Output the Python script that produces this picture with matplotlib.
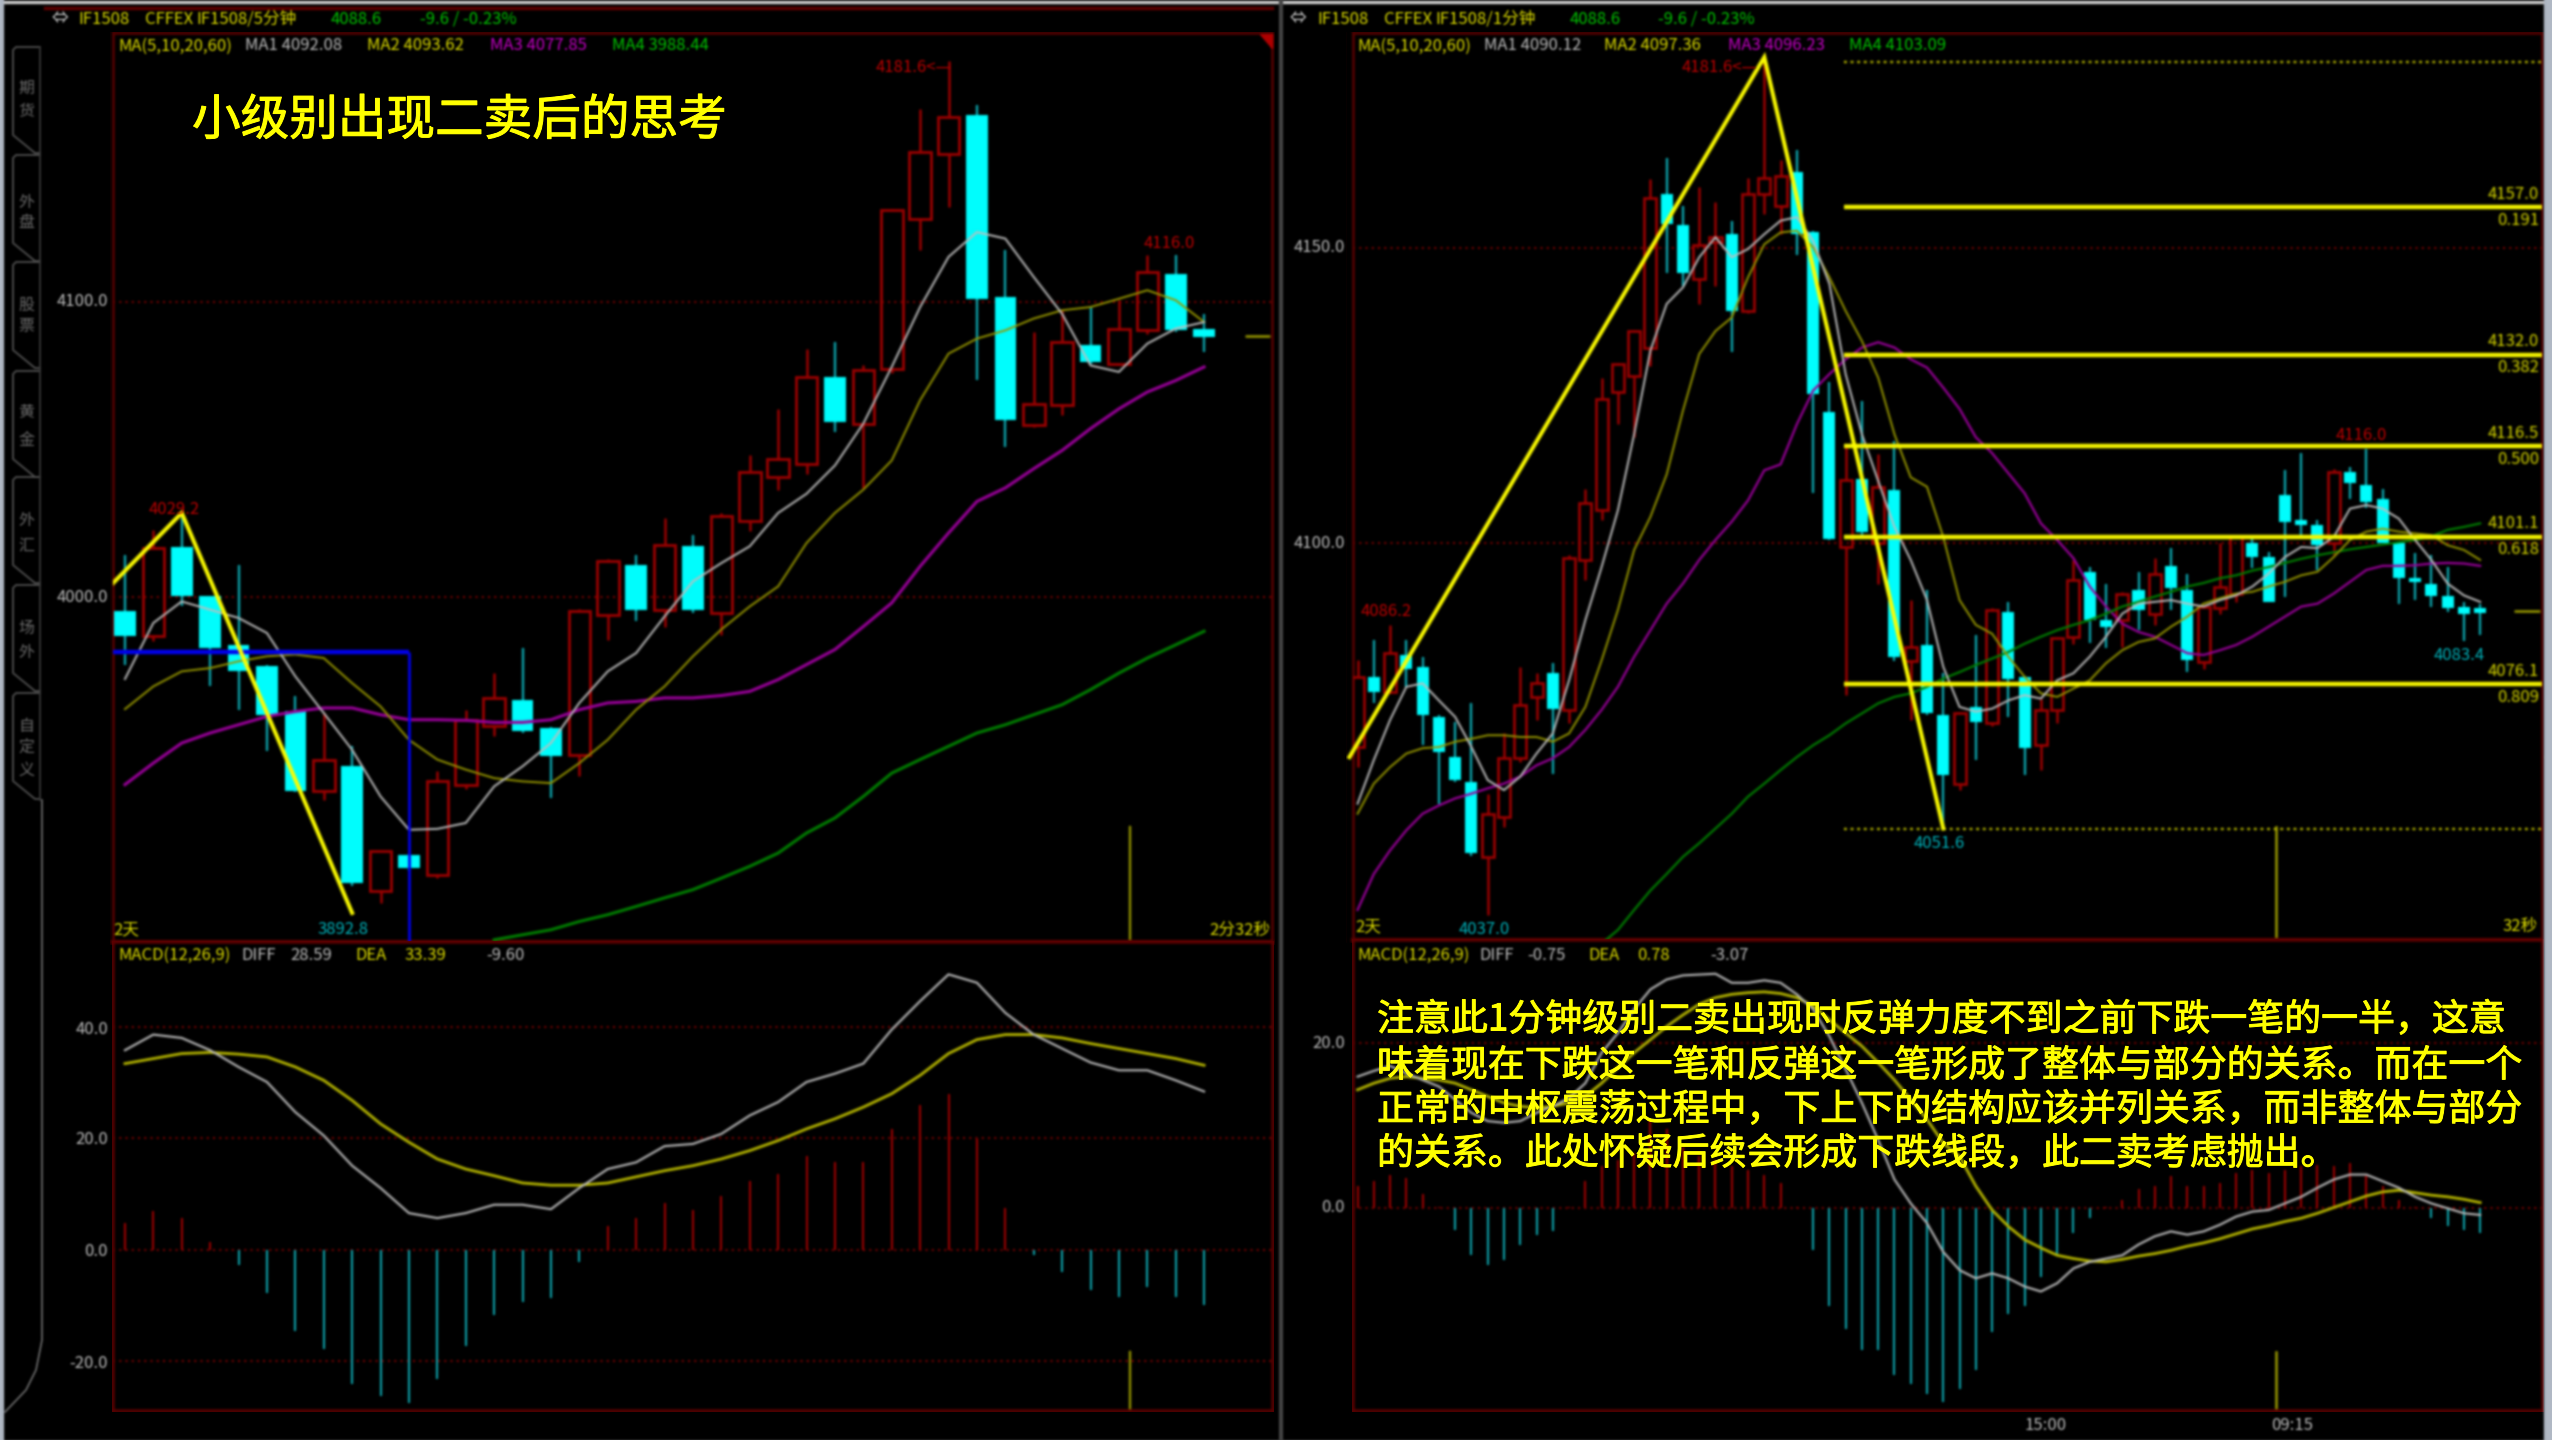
import numpy as np
import matplotlib
matplotlib.use('Agg')
import matplotlib.pyplot as plt
from matplotlib.patches import Polygon
import matplotlib.patheffects as pe

plt.rcParams['font.family'] = ['Noto Sans CJK SC', 'DejaVu Sans']

W, H = 2552, 1440

# left chart, 5 minute candles
L_OPEN = [3995.1, 3986.7, 4016.8, 4000.2, 3983.8, 3976.5, 3961.2, 3934.1, 3942.6, 3900.2, 3912.6, 3905.9, 3936.4,
          3956.2, 3965.2, 3955.6, 3946.5, 3994.0, 4011.0, 3995.7, 4017.2, 3994.6, 4025.6, 4040.7, 4045.2, 4074.6,
          4058.8, 4077.4, 4128.2, 4150.3, 4163.3, 4101.7, 4058.2, 4065.0, 4085.3, 4079.1, 4090.4, 4109.6, 4091.0]
L_CLOSE = [3986.7, 4016.6, 4000.2, 3982.7, 3974.8, 3960.0, 3934.1, 3944.9, 3903.0, 3913.8, 3908.1, 3937.5, 3958.4,
           3965.8, 3954.5, 3946.0, 3995.1, 4012.1, 3995.7, 4017.7, 3995.7, 4027.3, 4042.4, 4046.9, 4074.6, 4059.3,
           4076.8, 4131.1, 4150.8, 4162.7, 4101.1, 4059.9, 4065.5, 4086.4, 4079.7, 4091.0, 4110.2, 4090.4, 4088.1]
L_HIGH = [4014.4, 4022.8, 4028.5, 4000.5, 4011.0, 3977.0, 3966.3, 3960.7, 3949.4, 3914.0, 3913.0, 3940.9, 3961.8,
          3974.2, 3982.7, 3956.0, 3996.0, 4013.0, 4014.4, 4026.8, 4021.0, 4028.5, 4048.0, 4063.8, 4084.2, 4086.4,
          4078.5, 4131.5, 4165.5, 4181.6, 4166.7, 4117.5, 4089.8, 4097.2, 4098.3, 4100.6, 4116.0, 4115.8, 4096.0]
L_LOW = [3977.1, 3985.0, 3997.0, 3969.7, 3961.8, 3947.7, 3934.0, 3931.3, 3902.0, 3896.3, 3907.0, 3904.7, 3935.0,
         3952.8, 3954.0, 3931.9, 3939.2, 3985.5, 3991.8, 3990.0, 3994.6, 3987.2, 4022.3, 4036.2, 4041.8, 4055.9,
         4037.0, 4076.0, 4117.5, 4132.2, 4073.4, 4050.8, 4057.6, 4061.6, 4079.0, 4078.5, 4089.0, 4089.8, 4083.0]
L_MA1 = [3972.2, 3991.2, 3998.5, 3995.7, 3992.9, 3987.8, 3973.1, 3960.7, 3948.2, 3932.4, 3921.1, 3921.4, 3923.4,
         3935.8, 3942.6, 3950.5, 3964.1, 3974.8, 3981.0, 3993.4, 4005.3, 4011.5, 4017.2, 4028.5, 4035.0, 4044.6,
         4058.8, 4078.0, 4098.3, 4115.3, 4123.7, 4121.5, 4108.5, 4096.0, 4078.5, 4076.3, 4085.9, 4091.0, 4093.2]
L_MA2 = [3962.0, 3969.7, 3974.8, 3975.9, 3978.2, 3979.9, 3980.5, 3979.3, 3970.8, 3962.9, 3951.6, 3944.9, 3941.5,
         3938.6, 3937.5, 3936.9, 3943.7, 3951.6, 3961.8, 3969.7, 3979.9, 3989.0, 3996.8, 4003.6, 4018.3, 4028.5,
         4036.4, 4046.3, 4066.7, 4082.5, 4087.6, 4090.4, 4094.4, 4097.2, 4098.3, 4101.1, 4104.0, 4100.6, 4093.2]
L_MA3 = [3936.4, 3943.7, 3950.5, 3953.9, 3956.7, 3959.5, 3961.2, 3962.4, 3962.4, 3960.1, 3958.4, 3958.4, 3958.2,
         3957.5, 3957.5, 3958.4, 3961.8, 3964.1, 3964.6, 3965.8, 3965.8, 3966.6, 3968.0, 3972.0, 3977.1, 3982.2,
         3990.0, 3998.0, 4010.4, 4021.7, 4032.4, 4037.0, 4043.5, 4049.7, 4057.1, 4063.8, 4069.5, 4073.4, 4078.0]
L_MA4_START = 13
L_MA4 = [3883.8, 3885.5, 3887.2, 3890.0, 3892.3, 3895.1, 3898.0, 3900.8, 3904.7, 3908.7, 3913.2, 3920.0, 3925.1,
         3932.4, 3940.3, 3944.9, 3949.4, 3953.9, 3956.7, 3960.1, 3963.5, 3968.6, 3974.2, 3979.3, 3983.8, 3988.4]
L_STROKE_X = [-0.42, 2, 8]
L_STROKE_Y = [4004.7, 4028.5, 3892.9]
L_BLUE_LEVEL = 3981.2
L_BLUE_X = 10
L_MARK_X = 35.4
L_GRID = [4100, 4000]

L_MACD = [4.8, 6.9, 5.7, 1.5, -2.7, -7.8, -14.5, -17.8, -24.1, -26.2, -27.4, -23.2, -17.2, -11.7, -9.3, -8.7, -2.1,
          4.2, 5.7, 8.4, 7.2, 9.6, 12.3, 13.6, 16.9, 15.7, 15.7, 21.7, 25.9, 28.0, 19.9, 7.5, -0.9, -3.9, -7.2, -8.4,
          -6.6, -8.4, -9.9]
L_DIFF = [35.8, 38.6, 38.0, 35.8, 32.8, 30.1, 24.7, 20.5, 15.1, 11.1, 6.6, 5.7, 6.6, 8.1, 8.1, 7.3, 11.1, 14.5, 15.7,
          18.6, 19.0, 20.8, 24.1, 26.5, 30.1, 31.6, 33.4, 39.5, 44.6, 49.4, 47.9, 42.5, 38.6, 36.1, 33.6, 32.2, 32.2,
          30.4, 28.4]
L_DEA = [33.4, 34.3, 35.2, 35.4, 35.1, 34.6, 32.8, 30.4, 26.8, 22.6, 19.3, 16.3, 14.5, 13.3, 12.0, 11.6, 11.6, 12.0,
         13.1, 14.2, 15.1, 16.3, 17.8, 19.6, 21.7, 23.5, 25.6, 28.0, 31.3, 35.2, 37.7, 38.6, 38.6, 38.0, 37.0, 36.1,
         35.2, 34.3, 33.1]
L_MACD_GRID = [40, 20, 0, -20]

# right chart, 1 minute candles
R_OPEN = [4065.5, 4077.4, 4074.9, 4081.1, 4079.1, 4070.6, 4063.8, 4059.6, 4046.9, 4053.7, 4063.6, 4074.0, 4078.0,
          4071.8, 4097.2, 4105.6, 4125.6, 4128.4, 4133.2, 4159.3, 4154.0, 4144.8, 4151.0, 4152.4, 4139.4, 4159.2,
          4157.2, 4162.9, 4152.7, 4122.2, 4099.4, 4111.0, 4100.0, 4109.0, 4080.0, 4082.8, 4070.9, 4059.3, 4072.3,
          4069.5, 4088.4, 4077.4, 4065.8, 4071.8, 4084.2, 4095.2, 4087.0, 4087.0, 4092.1, 4088.1, 4096.2, 4092.1,
          4079.9, 4089.0, 4091.5, 4100.0, 4097.7, 4108.2, 4104.0, 4103.1, 4100.0, 4112.1, 4109.9, 4107.6, 4100.0,
          4094.1, 4093.2, 4091.1, 4089.2, 4089.0]
R_CLOSE = [4077.4, 4074.9, 4081.4, 4078.8, 4070.9, 4064.7, 4059.9, 4047.5, 4054.2, 4063.6, 4072.6, 4076.3, 4072.0,
           4097.5, 4106.8, 4124.5, 4130.4, 4136.0, 4158.6, 4154.1, 4145.9, 4150.5, 4151.9, 4139.4, 4159.3, 4162.0,
           4162.3, 4152.4, 4125.3, 4100.8, 4110.7, 4102.0, 4109.6, 4080.8, 4082.5, 4071.2, 4060.7, 4071.2, 4069.8,
           4088.7, 4077.1, 4065.3, 4071.8, 4083.9, 4093.8, 4087.0, 4085.9, 4091.5, 4088.7, 4094.9, 4092.4, 4080.2,
           4089.3, 4092.7, 4101.1, 4097.7, 4090.1, 4103.7, 4103.1, 4099.7, 4112.1, 4110.2, 4107.0, 4100.1, 4094.1,
           4093.5, 4091.1, 4089.0, 4088.1, 4088.2]
R_HIGH = [4080.2, 4083.6, 4086.2, 4083.6, 4080.8, 4071.0, 4069.8, 4072.9, 4057.6, 4067.8, 4079.1, 4078.0, 4079.7,
          4098.0, 4109.3, 4128.1, 4130.6, 4136.2, 4161.8, 4165.4, 4157.2, 4160.4, 4157.8, 4154.7, 4162.0, 4181.6,
          4164.9, 4166.6, 4153.0, 4127.3, 4116.8, 4124.2, 4115.1, 4117.4, 4090.4, 4092.1, 4078.0, 4071.5, 4084.5,
          4089.0, 4090.1, 4077.6, 4073.7, 4084.2, 4097.2, 4096.0, 4093.2, 4091.8, 4095.2, 4097.5, 4099.2, 4094.9,
          4089.5, 4100.0, 4101.5, 4101.1, 4098.6, 4112.4, 4115.3, 4104.0, 4112.7, 4113.0, 4116.0, 4109.3, 4100.2,
          4098.3, 4098.0, 4096.0, 4090.0, 4089.8]
R_LOW = [4062.1, 4072.9, 4074.6, 4075.7, 4065.8, 4055.9, 4059.5, 4047.0, 4037.0, 4052.0, 4063.0, 4070.1, 4061.0,
         4069.5, 4093.8, 4104.0, 4120.2, 4118.0, 4130.0, 4145.9, 4143.7, 4140.6, 4143.7, 4132.4, 4139.0, 4155.8,
         4152.4, 4148.8, 4108.5, 4100.5, 4074.3, 4101.5, 4093.2, 4080.0, 4070.0, 4071.0, 4051.6, 4058.2, 4063.3,
         4069.0, 4070.6, 4060.7, 4061.6, 4069.5, 4083.0, 4083.1, 4082.2, 4082.5, 4085.3, 4086.2, 4088.7, 4078.2,
         4078.8, 4088.0, 4090.0, 4095.8, 4090.0, 4091.0, 4101.0, 4095.5, 4098.0, 4107.6, 4106.0, 4100.0, 4089.8,
         4090.4, 4089.3, 4088.4, 4083.4, 4084.5]
R_MA1 = [4055.9, 4063.3, 4070.1, 4075.7, 4076.3, 4073.4, 4070.6, 4065.5, 4059.9, 4058.2, 4060.5, 4064.4, 4067.8,
         4076.8, 4087.0, 4096.0, 4105.6, 4118.5, 4132.7, 4140.6, 4143.4, 4148.5, 4151.9, 4148.5, 4149.9, 4152.4,
         4154.7, 4155.3, 4151.3, 4144.0, 4128.7, 4118.5, 4110.6, 4102.8, 4097.2, 4090.4, 4079.1, 4072.3, 4071.5,
         4072.0, 4073.4, 4074.3, 4073.7, 4076.8, 4078.0, 4080.8, 4084.2, 4088.1, 4089.8, 4090.1, 4090.4, 4089.8,
         4089.3, 4090.4, 4091.2, 4092.7, 4094.9, 4097.7, 4099.4, 4099.2, 4101.1, 4105.9, 4106.5, 4105.9, 4104.2,
         4100.6, 4097.2, 4093.2, 4091.2, 4090.1]
R_MA2 = [4054.2, 4059.3, 4062.1, 4064.4, 4065.3, 4065.5, 4066.4, 4066.9, 4067.5, 4067.5, 4067.2, 4067.2, 4066.4,
         4067.8, 4072.3, 4080.2, 4088.7, 4098.9, 4104.5, 4111.7, 4122.5, 4132.1, 4136.0, 4138.3, 4145.1, 4150.7,
         4152.7, 4153.0, 4150.2, 4145.1, 4139.4, 4134.3, 4128.1, 4118.5, 4111.2, 4109.6, 4101.1, 4090.4, 4086.2,
         4084.7, 4080.8, 4077.4, 4074.6, 4074.0, 4075.4, 4076.8, 4079.7, 4081.9, 4083.3, 4083.9, 4085.9, 4087.6,
         4089.8, 4090.7, 4091.5, 4091.8, 4092.7, 4093.5, 4094.6, 4095.2, 4097.7, 4100.6, 4102.0, 4102.5, 4102.0,
         4101.7, 4101.4, 4099.7, 4098.9, 4097.2]
R_MA3 = [4037.9, 4044.0, 4048.0, 4051.4, 4054.2, 4055.6, 4056.8, 4057.6, 4058.5, 4059.3, 4060.5, 4062.4, 4063.6,
         4065.5, 4068.4, 4071.8, 4075.7, 4080.8, 4085.3, 4089.8, 4093.2, 4097.2, 4100.6, 4103.7, 4107.3, 4112.4,
         4113.4, 4120.2, 4125.9, 4128.7, 4131.2, 4133.2, 4134.1, 4133.2, 4131.2, 4129.8, 4126.4, 4122.8, 4118.0,
         4115.3, 4111.9, 4108.5, 4103.4, 4100.6, 4097.5, 4092.7, 4089.3, 4086.4, 4085.0, 4084.2, 4082.8, 4081.4,
         4081.1, 4081.9, 4082.8, 4084.2, 4085.9, 4087.6, 4089.3, 4089.8, 4091.5, 4093.5, 4095.5, 4096.2, 4096.2,
         4096.3, 4096.6, 4096.7, 4096.6, 4096.2]
R_MA4_START = 15
R_MA4 = [4032.2, 4034.5, 4037.9, 4041.2, 4044.0, 4046.9, 4049.2, 4051.7, 4054.2, 4057.1, 4059.3, 4061.6, 4063.8,
         4065.8, 4067.5, 4069.5, 4071.2, 4072.9, 4074.0, 4074.6, 4075.7, 4077.1, 4078.2, 4079.4, 4080.5, 4081.6,
         4083.0, 4084.2, 4085.3, 4086.2, 4087.0, 4088.1, 4089.3, 4090.1, 4091.0, 4091.8, 4092.7, 4093.3, 4094.1,
         4094.6, 4095.4, 4096.0, 4096.7, 4097.4, 4098.0, 4098.5, 4099.0, 4099.4, 4099.8, 4100.2, 4100.6, 4101.2,
         4102.3, 4102.8, 4103.4]
R_STROKE_X = [-0.5, 25, 36]
R_STROKE_Y = [4063.8, 4182.4, 4051.7]
R_FIB_LEVELS = [4157.0, 4132.0, 4116.5, 4101.1, 4076.1]
R_FIB_RATIOS = ['0.191', '0.382', '0.500', '0.618', '0.809']
R_FIB_START = 29.9
R_HIGH_LEVEL = 4181.6
R_LOW_LEVEL = 4051.6
R_MARK_X = 56.45
R_GRID = [4150, 4100]

R_MACD = [2.6, 3.2, 4.0, 3.6, 1.7, 0.1, -2.7, -5.8, -7.0, -6.4, -4.5, -3.3, -2.9, 0.1, 3.2, 5.0, 5.8, 6.6, 10.7, 9.5,
          7.4, 6.2, 5.8, 5.0, 4.6, 4.0, 3.0, 0.1, -5.2, -12.0, -14.7, -17.3, -17.3, -20.4, -21.4, -22.6, -23.6, -22.0,
          -19.8, -15.1, -12.9, -12.0, -8.4, -5.6, -3.1, -1.3, 0.1, 0.9, 2.2, 2.6, 3.8, 2.6, 2.6, 3.0, 4.2, 4.6, 4.2,
          4.6, 5.0, 5.2, 5.0, 5.4, 3.8, 2.6, 0.9, 0.1, -1.3, -2.3, -2.7, -3.1]
R_DIFF = [15.9, 16.6, 17.2, 16.3, 15.5, 14.7, 13.1, 11.5, 10.5, 10.3, 10.5, 11.5, 12.3, 13.3, 15.1, 18.8, 21.2, 24.1,
          26.5, 27.7, 28.2, 28.3, 28.4, 27.3, 27.3, 27.6, 27.3, 25.9, 24.1, 20.8, 16.8, 12.7, 8.2, 3.4, 0.5, -1.9, -5.4,
          -7.6, -8.6, -8.0, -8.6, -9.6, -10.2, -9.2, -7.4, -6.6, -6.2, -5.8, -4.5, -3.5, -2.9, -3.3, -2.9, -2.1, -1.1,
          -0.5, -0.3, 0.5, 1.3, 2.4, 3.4, 4.0, 4.0, 3.2, 2.4, 1.3, 0.5, -0.1, -0.7, -0.9]
R_DEA = [14.3, 15.1, 15.7, 15.9, 15.7, 15.5, 15.1, 14.3, 13.5, 12.7, 12.3, 12.1, 12.3, 12.7, 13.5, 15.1, 17.0, 18.8,
         20.4, 22.0, 23.4, 24.7, 25.5, 25.9, 26.1, 26.2, 26.0, 25.5, 24.5, 22.8, 21.2, 19.6, 17.6, 15.5, 13.1, 10.7,
         7.8, 6.2, 2.6, -0.3, -2.3, -3.9, -4.9, -5.8, -6.2, -6.5, -6.6, -6.3, -5.9, -5.6, -5.2, -4.7, -4.3, -3.8, -3.2,
         -2.6, -2.2, -1.7, -1.3, -0.7, 0.0, 0.7, 1.4, 1.9, 2.1, 1.8, 1.5, 1.3, 1.0, 0.6]
R_MACD_GRID = [20, 0]

LAST_PRICE = 4088.6

TITLE = '小级别出现二卖后的思考'
NOTE_LINES = ['注意此1分钟级别二卖出现时反弹力度不到之前下跌一笔的一半，这意',
              '味着现在下跌这一笔和反弹这一笔形成了整体与部分的关系。而在一个',
              '正常的中枢震荡过程中，下上下的结构应该并列关系，而非整体与部分',
              '的关系。此处怀疑后续会形成下跌线段，此二卖考虑抛出。']
TABS = ['期货', '外盘', '股票', '黄金', '外汇', '场外', '自定义']

RED = '#a00000'
CYAN = '#00ffff'
TEAL = '#10a8b0'
FRAME = '#5e0000'
GRAY = '#c0c0c0'
OLIVE = '#989800'
TXT_OLIVE = '#e0e000'
PURPLE = '#9a009a'
GREEN = '#008000'
YELLOW = '#ffff00'
GREENTXT = '#00c800'


def soften(sigma):
    # the reference is an enlarged screenshot, so everything in it is slightly smeared
    r = int(3 * sigma)
    k = np.exp(-0.5 * (np.arange(-r, r + 1) / sigma) ** 2)
    k = k / k.sum()

    def run(img, dpi):
        a = img[..., 3:4]
        out = np.concatenate([img[..., :3] * a, a], axis=2)
        for axis in (0, 1):
            out = sum(w * np.roll(out, i - r, axis=axis) for i, w in enumerate(k))
        alpha = np.clip(out[..., 3:4], 1e-4, 1)
        out = np.concatenate([np.clip(out[..., :3] / alpha, 0, 1), out[..., 3:4]], axis=2)
        return out, 0, 0
    return run


def px_axes(x0, y0, x1, y1):
    ax = fig.add_axes([x0 / W, 1 - y1 / H, (x1 - x0) / W, (y1 - y0) / H])
    ax.set_facecolor('black')
    ax.set_xticks([])
    ax.set_yticks([])
    ax.set_agg_filter(soften(1.2))
    for s in ax.spines.values():
        s.set_color(FRAME)
        s.set_linewidth(1.8)
    return ax


def candles(ax, op, cl, hi, lo, width, lw):
    for i in range(len(op)):
        top, bot = max(op[i], cl[i]), min(op[i], cl[i])
        if cl[i] < op[i]:
            ax.vlines(i, lo[i], hi[i], color=TEAL, lw=1.7, zorder=2)
            ax.bar(i, top - bot, bottom=bot, width=width, color=CYAN, zorder=3)
        else:
            ax.vlines(i, top, hi[i], color=RED, lw=1.8, zorder=2)
            ax.vlines(i, lo[i], bot, color=RED, lw=1.8, zorder=2)
            ax.bar(i, top - bot, bottom=bot, width=width, facecolor='none', edgecolor=RED, lw=lw, zorder=3)


def ma_lines(ax, ma1, ma2, ma3, ma4, start4, lw34):
    ax.plot(ma3, color=PURPLE, lw=lw34, zorder=4)
    ax.plot(range(start4, start4 + len(ma4)), ma4, color=GREEN, lw=lw34, zorder=4)
    ax.plot(ma2, color=OLIVE, lw=1.4, zorder=4)
    ax.plot(ma1, color=GRAY, lw=1.4, zorder=4)


def grid(ax, levels):
    for v in levels:
        ax.axhline(v, color='#840000', lw=1.5, ls=(0, (1, 2)), zorder=1)


def macd(ax, hist, diff, dea, levels):
    grid(ax, levels)
    cols = [RED if v > 0 else TEAL for v in hist]
    ax.vlines(range(len(hist)), 0, hist, colors=cols, lw=1.5, zorder=2)
    ax.plot(dea, color='#b8b800', lw=2.0, zorder=3)
    ax.plot(diff, color=GRAY, lw=1.5, zorder=4)


fig = plt.figure(figsize=(W / 100, H / 100), dpi=100, facecolor='black')

# panels
ax_l = px_axes(113, 33, 1272, 942)
ax_l.set_xlim(-0.42, 40.39)
ax_l.set_ylim(3883.05, 4191.2)
ax_lm = px_axes(113, 942, 1272, 1410)
ax_lm.set_xlim(-0.42, 40.39)
ax_lm.set_ylim(-28.7, 55.2)
ax_r = px_axes(1353, 33, 2542, 940)
ax_r.set_xlim(-0.28, 72.8)
ax_r.set_ylim(4032.8, 4186.5)
ax_rm = px_axes(1353, 940, 2542, 1410)
ax_rm.set_xlim(-0.28, 72.8)
ax_rm.set_ylim(-24.6, 32.5)
for a in (ax_l, ax_r):
    a.spines['bottom'].set_linewidth(3)

# left chart
grid(ax_l, L_GRID)
candles(ax_l, L_OPEN, L_CLOSE, L_HIGH, L_LOW, 0.76, 2.0)
ma_lines(ax_l, L_MA1, L_MA2, L_MA3, L_MA4, L_MA4_START, 2.2)
ax_l.hlines(L_BLUE_LEVEL, ax_l.get_xlim()[0], L_BLUE_X, color='#0000f0', lw=3.2, zorder=5)
ax_l.vlines(L_BLUE_X, ax_l.get_ylim()[0], L_BLUE_LEVEL, color='#0000f0', lw=2.0, zorder=5)
ax_l.plot(L_STROKE_X, L_STROKE_Y, color=YELLOW, lw=2.9, zorder=6, solid_joinstyle='miter')
ax_l.axvline(L_MARK_X, ymin=0, ymax=115 / 909, color=OLIVE, lw=1.7)
ax_l.hlines(LAST_PRICE, 39.44, 40.32, color=OLIVE, lw=1.9)
macd(ax_lm, L_MACD, L_DIFF, L_DEA, L_MACD_GRID)
ax_lm.axvline(L_MARK_X, ymin=0, ymax=58 / 468, color=OLIVE, lw=1.7)

# right chart
grid(ax_r, R_GRID)
candles(ax_r, R_OPEN, R_CLOSE, R_HIGH, R_LOW, 0.74, 1.9)
ma_lines(ax_r, R_MA1, R_MA2, R_MA3, R_MA4, R_MA4_START, 1.6)
ax_r.hlines([R_HIGH_LEVEL, R_LOW_LEVEL], R_FIB_START, ax_r.get_xlim()[1], color='#c0c000', lw=1.7, ls=(0, (1.2, 1.6)),
            zorder=5)
ax_r.hlines(R_FIB_LEVELS, R_FIB_START, ax_r.get_xlim()[1], color='#f8f800', lw=3.2, zorder=6)
ln, = ax_r.plot(R_STROKE_X, R_STROKE_Y, color=YELLOW, lw=2.9, zorder=7, solid_joinstyle='miter')
ln.set_clip_on(False)
ax_r.axvline(R_MARK_X, ymin=0, ymax=113 / 907, color=OLIVE, lw=1.9)
ax_r.hlines(LAST_PRICE, 71.1, 72.7, color=OLIVE, lw=1.9)
yax = ax_r.get_yaxis_transform()
for lv, ratio in zip(R_FIB_LEVELS, R_FIB_RATIOS):
    ax_r.annotate(f'{lv:.1f}', xy=(1, lv), xycoords=yax, xytext=(-3, 13), textcoords='offset pixels', ha='right',
                  va='center', color=TXT_OLIVE, fontsize=12, zorder=8)
    ax_r.annotate(ratio, xy=(1, lv), xycoords=yax, xytext=(-3, -13), textcoords='offset pixels', ha='right',
                  va='center', color=TXT_OLIVE, fontsize=12, zorder=8)
macd(ax_rm, R_MACD, R_DIFF, R_DEA, R_MACD_GRID)
ax_rm.axvline(R_MARK_X, ymin=0, ymax=58 / 470, color=OLIVE, lw=1.9)

# overlay in pixel coordinates, for window chrome and text
ov = fig.add_axes([0, 0, 1, 1], zorder=10)
ov.set_xlim(0, W)
ov.set_ylim(H, 0)
ov.axis('off')
ov.patch.set_alpha(0)
ov.set_agg_filter(soften(1.1))

ov.plot([0, W], [1.5, 1.5], color='#d0d0d0', lw=2.4)
ov.plot([2, 2], [0, H], color='#b0b8c4', lw=3)
ov.plot([2548, 2548], [0, H], color='#b0b8c4', lw=6)
ov.plot([1281, 1281], [0, H], color='#444444', lw=3)
ov.plot([45, 1272], [8, 8], color=FRAME, lw=2.5)
ov.add_patch(Polygon([[1260, 34], [1272, 34], [1272, 48]], color='#b00000'))

# sidebar tabs
tab_tops = [47, 155, 262, 371, 477, 585, 693]
tab_char_y = [[88, 112], [202, 222], [305, 327], [412, 440], [520, 547], [628, 652], [727, 748, 770]]
for top, ys, name in zip(tab_tops, tab_char_y, TABS):
    bot = top + 88
    ov.plot([40, 16, 13, 13, 35, 40], [top, top, top + 3, bot, bot + 18, bot + 18], color='#505050', lw=1.3)
    for ch, y in zip(name, ys):
        ov.text(26, y, ch, color='#6c6c6c', fontsize=11.5, ha='center', va='center')
ov.plot([40, 40], [47, 800], color='#383838', lw=1.3)
ov.plot([42, 42, 36, 26, 5], [800, 1340, 1370, 1390, 1412], color='#707070', lw=1.2)


def label(x, y, s, color, ha='left', size=12):
    ov.text(x, y, s, color=color, fontsize=size, ha=ha, va='center')


# header rows
label(52, 19, '⇔', '#dddddd')
label(78, 19, 'IF1508', TXT_OLIVE)
label(145, 19, 'CFFEX', TXT_OLIVE)
label(196, 19, 'IF1508/5分钟', TXT_OLIVE)
label(331, 19, '4088.6', GREENTXT)
label(420, 19, '-9.6 / -0.23%', GREENTXT)
label(1290, 19, '⇔', '#dddddd')
label(1317, 19, 'IF1508', TXT_OLIVE)
label(1384, 19, 'CFFEX', TXT_OLIVE)
label(1435, 19, 'IF1508/1分钟', TXT_OLIVE)
label(1570, 19, '4088.6', GREENTXT)
label(1658, 19, '-9.6 / -0.23%', GREENTXT)

label(118, 46, 'MA(5,10,20,60)', TXT_OLIVE)
label(245, 46, 'MA1 4092.08', GRAY)
label(367, 46, 'MA2 4093.62', TXT_OLIVE)
label(490, 46, 'MA3 4077.85', '#c800c8')
label(612, 46, 'MA4 3988.44', GREENTXT)
label(1357, 46, 'MA(5,10,20,60)', TXT_OLIVE)
label(1484, 46, 'MA1 4090.12', GRAY)
label(1604, 46, 'MA2 4097.36', TXT_OLIVE)
label(1728, 46, 'MA3 4096.23', '#c800c8')
label(1849, 46, 'MA4 4103.09', GREENTXT)

# axis labels
label(108, 302, '4100.0', GRAY, 'right')
label(108, 597, '4000.0', GRAY, 'right')
label(108, 1029, '40.0', GRAY, 'right')
label(108, 1140, '20.0', GRAY, 'right')
label(108, 1251, '0.0', GRAY, 'right')
label(108, 1363, '-20.0', GRAY, 'right')
label(1345, 248, '4150.0', GRAY, 'right')
label(1345, 543, '4100.0', GRAY, 'right')
label(1345, 1043, '20.0', GRAY, 'right')
label(1345, 1207, '0.0', GRAY, 'right')
label(2046, 1425, '15:00', GRAY, 'center')
label(2292, 1425, '09:15', GRAY, 'center')

# marks on the candles
label(951, 67, '4181.6<—', '#c00000', 'right')
label(1169, 243, '4116.0', '#c00000', 'center')
label(174, 510, '4029.2', '#c00000', 'center')
label(343, 930, '3892.8', '#00b4bc', 'center')
label(113, 930, '2天', TXT_OLIVE)
label(1270, 930, '2分32秒', TXT_OLIVE, 'right')
label(1757, 67, '4181.6<—', '#c00000', 'right')
label(1386, 612, '4086.2', '#c00000', 'center')
label(1484, 930, '4037.0', '#00b4bc', 'center')
label(1939, 843, '4051.6', '#00b4bc', 'center')
label(2459, 655, '4083.4', '#00b4bc', 'center')
label(2361, 435, '4116.0', '#c00000', 'center')
label(1355, 927, '2天', TXT_OLIVE)
label(2538, 927, '32秒', TXT_OLIVE, 'right')

# macd headers
for x, s, c in [(118, 'MACD(12,26,9)', TXT_OLIVE), (241, 'DIFF', GRAY), (290, '28.59', GRAY), (355, 'DEA', TXT_OLIVE),
                (404, '33.39', TXT_OLIVE), (486, '-9.60', GRAY), (1357, 'MACD(12,26,9)', TXT_OLIVE), (1479, 'DIFF', GRAY),
                (1527, '-0.75', GRAY), (1588, 'DEA', TXT_OLIVE), (1637, '0.78', TXT_OLIVE), (1710, '-3.07', GRAY)]:
    label(x, 955, s, c)

# annotations typed over the chart, these stay crisper than the screenshot
notes = fig.add_axes([0, 0, 1, 1], zorder=11)
notes.set_xlim(0, W)
notes.set_ylim(H, 0)
notes.axis('off')
notes.patch.set_alpha(0)
thick = [pe.withStroke(linewidth=0.7, foreground=YELLOW)]
notes.text(192, 121, TITLE, color=YELLOW, fontsize=35.0, ha='left', va='center', path_effects=thick)
for y, line in zip([1020, 1066, 1110, 1154], NOTE_LINES):
    notes.text(1377, y, line, color=YELLOW, fontsize=26.6, ha='left', va='center', path_effects=thick)

fig.savefig('out.png', dpi=100, facecolor='black')
